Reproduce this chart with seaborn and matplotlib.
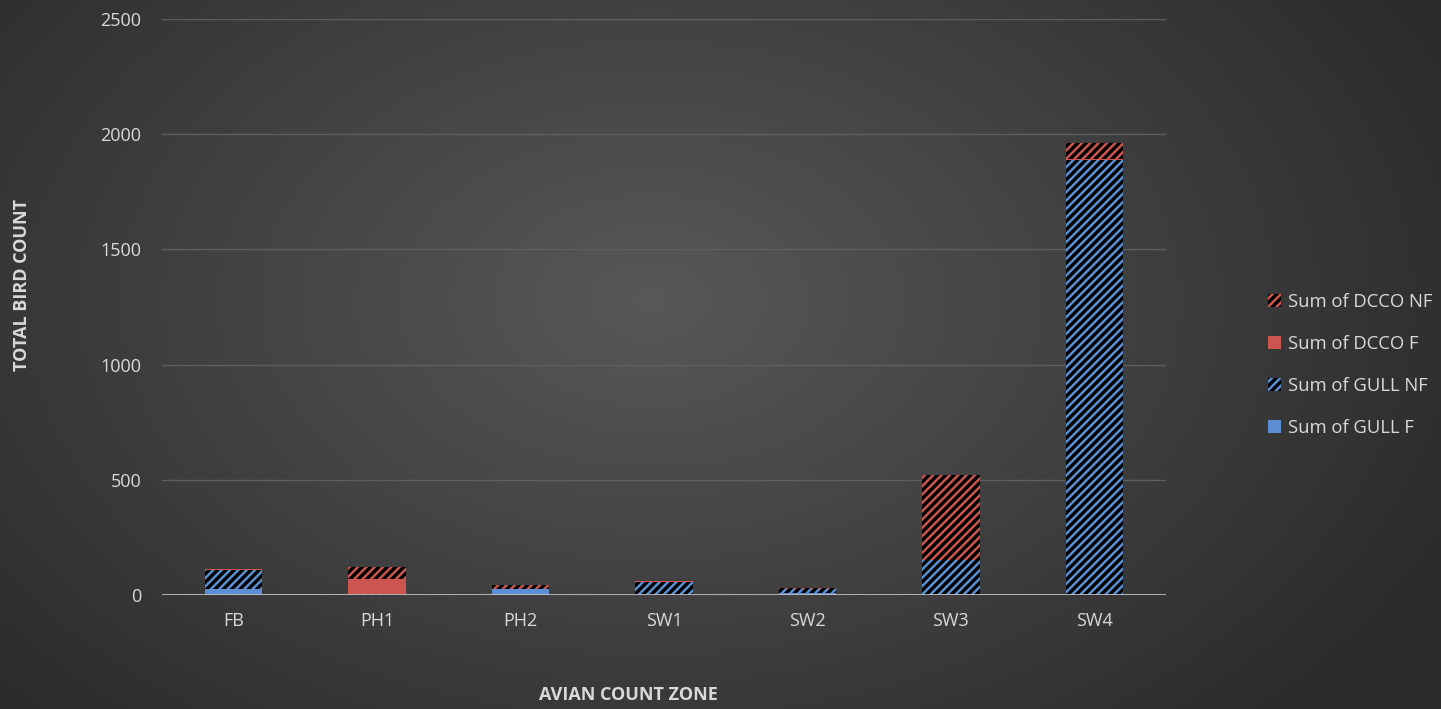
import numpy as np
import pandas as pd
import matplotlib
matplotlib.use('Agg')
import matplotlib.pyplot as plt
import matplotlib.patches as mpatches
import seaborn as sns

# values
zones = ['FB', 'PH1', 'PH2', 'SW1', 'SW2', 'SW3', 'SW4']
gull_f = [28, 0, 25, 0, 8, 0, 0]
gull_nf = [80, 3, 0, 58, 18, 150, 1890]
dcco_f = [6, 65, 0, 2, 0, 3, 3]
dcco_nf = [0, 55, 18, 0, 4, 368, 67]

series_names = ['Sum of GULL F', 'Sum of GULL NF', 'Sum of DCCO F', 'Sum of DCCO NF']
y_ticks = [0, 500, 1000, 1500, 2000, 2500]

BLUE = '#5b8ed3'
RED = '#cc5550'
TEXT = '#d9d9d9'

df = pd.DataFrame({'zone': zones, 'Sum of GULL F': gull_f, 'Sum of GULL NF': gull_nf,
                   'Sum of DCCO F': dcco_f, 'Sum of DCCO NF': dcco_nf})
# cumulative sums for stacking
cum = df[series_names].cumsum(axis=1)

sns.set_theme(style='dark')
plt.rcParams['font.family'] = ['Open Sans', 'DejaVu Sans']
plt.rcParams['hatch.linewidth'] = 1.8

fig = plt.figure(figsize=(14.41, 7.09), dpi=100)

# dark radial background
bg = fig.add_axes([0, 0, 1, 1], zorder=-10)
yy, xx = np.mgrid[0:709, 0:1441]
r = np.sqrt(((xx - 650) / 900.0) ** 2 + ((yy - 300) / 600.0) ** 2)
r = np.clip(r, 0, 1)
shade = 0.345 - 0.18 * r
bg.imshow(np.dstack([shade, shade, shade]), aspect='auto', extent=[0, 1, 0, 1])
bg.axis('off')

ax = fig.add_axes([162 / 1441, 1 - 595 / 709, 1004 / 1441, 576 / 709])
ax.set_facecolor('none')

styles = {
    'Sum of DCCO NF': dict(facecolor='black', edgecolor=RED, hatch='////', linewidth=0),
    'Sum of DCCO F': dict(facecolor=RED, edgecolor=RED, linewidth=0),
    'Sum of GULL NF': dict(facecolor='black', edgecolor=BLUE, hatch='////', linewidth=0),
    'Sum of GULL F': dict(facecolor=BLUE, edgecolor=BLUE, linewidth=0),
}

# draw from the top of the stack down so each lower segment overlays
for name in reversed(series_names):
    st = dict(styles[name])
    fc = st.pop('facecolor')
    sns.barplot(x=df['zone'], y=cum[name], ax=ax, width=0.4, saturation=1, color=fc, **st)

ax.set_ylim(0, 2500)
ax.set_xlim(-0.5, 6.5)
ax.set_yticks(y_ticks)
for t in y_ticks[1:]:
    ax.axhline(t, color='#5f5f5f', lw=1, zorder=0)
ax.axhline(0, color='#bfbfbf', lw=2, zorder=5)
for s in ax.spines.values():
    s.set_visible(False)
ax.tick_params(axis='both', colors=TEXT, labelsize=13, length=0)
ax.tick_params(axis='y', pad=15)
ax.tick_params(axis='x', pad=12)
ax.set_xlabel('AVIAN COUNT ZONE', color=TEXT, fontsize=13, fontweight='bold')
ax.set_ylabel('TOTAL BIRD COUNT', color=TEXT, fontsize=13, fontweight='bold')
ax.xaxis.set_label_coords((628 - 162) / 1004, (595 - 695) / 576)
ax.yaxis.set_label_coords((22 - 162) / 1004, (595 - 285) / 576)
ax.xaxis.label.set_va('center')
ax.yaxis.label.set_va('center')

handles = [mpatches.Patch(label=n, **styles[n]) for n in reversed(series_names)]
leg = fig.legend(handles=handles, loc='center left', bbox_to_anchor=(1251 / 1441, 1 - 365 / 709),
                 frameon=False, fontsize=13.3, handlelength=0.7, handleheight=0.7,
                 handletextpad=0.4, labelspacing=1.3)
for t in leg.get_texts():
    t.set_color(TEXT)

fig.savefig('out.png', dpi=100)
